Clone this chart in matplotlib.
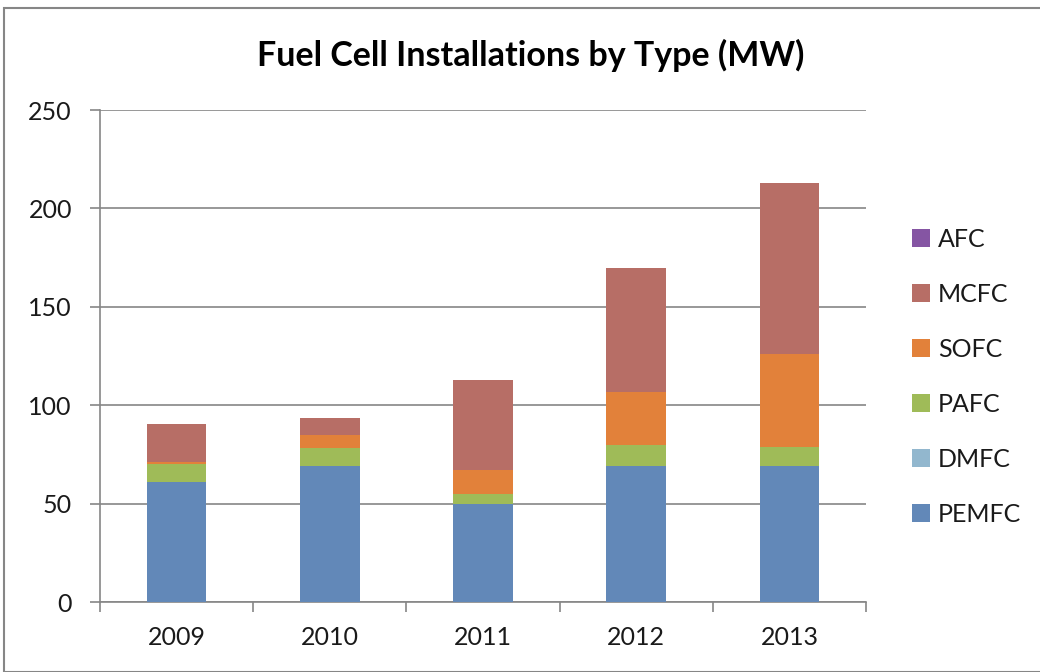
import matplotlib
matplotlib.use("Agg")
import matplotlib.pyplot as plt
from matplotlib.patches import Rectangle, Patch
import numpy as np

years = ["2009", "2010", "2011", "2012", "2013"]
pemfc = [61, 69, 50, 69, 69]
dmfc = [0, 0, 0, 0, 0]
pafc = [9, 9, 5, 11, 10]
sofc = [1, 7, 12, 26.5, 47]
mcfc = [19.5, 8.5, 46, 63, 87]
afc = [0, 0, 0, 0, 0]

series_names = ["PEMFC", "DMFC", "PAFC", "SOFC", "MCFC", "AFC"]
series_vals = [pemfc, dmfc, pafc, sofc, mcfc, afc]
colors = ["#6288B8", "#92B7CE", "#9FBB58", "#E2813A", "#B76E66", "#8555A3"]
yticks = [0, 50, 100, 150, 200, 250]

plt.rcParams['font.family'] = ['Lato', 'DejaVu Sans']

fig = plt.figure(figsize=(10.4, 6.72), dpi=100)
ax = fig.add_axes([100/1040, 70/672, 766/1040, 492/672])

x = np.arange(len(years))
bottom = np.zeros(len(years))
for name, vals, c in zip(series_names, series_vals, colors):
    v = np.array(vals, dtype=float)
    ax.bar(x, v, bottom=bottom, width=0.39, color=c, label=name, zorder=3)
    bottom += v

ax.set_xlim(-0.5, len(years) - 0.5)
ax.set_ylim(0, 250)
ax.set_yticks(yticks)
ax.set_yticklabels([str(t) for t in yticks], fontsize=18, color="#1a1a1a")
ax.set_xticks(x)
ax.set_xticklabels(years, fontsize=18, color="#1a1a1a")
ax.tick_params(axis='x', length=0, pad=17)
ax.tick_params(axis='y', length=7.2, width=1.2, color="#868686", pad=13)
# category boundary ticks
ax.set_xticks(np.arange(-0.5, len(years)), minor=True)
ax.tick_params(axis='x', which='minor', length=7, width=1.2, color="#868686")

ax.grid(axis='y', color="#868686", linewidth=1.2, zorder=0)
for s in ['top', 'right']:
    ax.spines[s].set_visible(False)
for s in ['left', 'bottom']:
    ax.spines[s].set_color("#868686")
    ax.spines[s].set_linewidth(1.2)

fig.text(531/1040, 1 - 55/672, "Fuel Cell Installations by Type (MW)",
         ha='center', va='center', fontsize=24.5, fontweight='bold', color="#000000")

handles = [Patch(facecolor=c, edgecolor='none') for c in colors][::-1]
labels = series_names[::-1]
fig.legend(handles, labels, loc='center left', bbox_to_anchor=(889/1040, 1 - 377/672),
           frameon=False, fontsize=18, handlelength=0.72, handleheight=0.72,
           handletextpad=0.35, labelspacing=1.28, labelcolor="#1a1a1a")

fig.patches.append(Rectangle((4/1040, 0), 1.2, 1 - 8/672, transform=fig.transFigure,
                             fill=False, edgecolor="#868686", linewidth=1.5))

fig.savefig("out.png", dpi=100)
